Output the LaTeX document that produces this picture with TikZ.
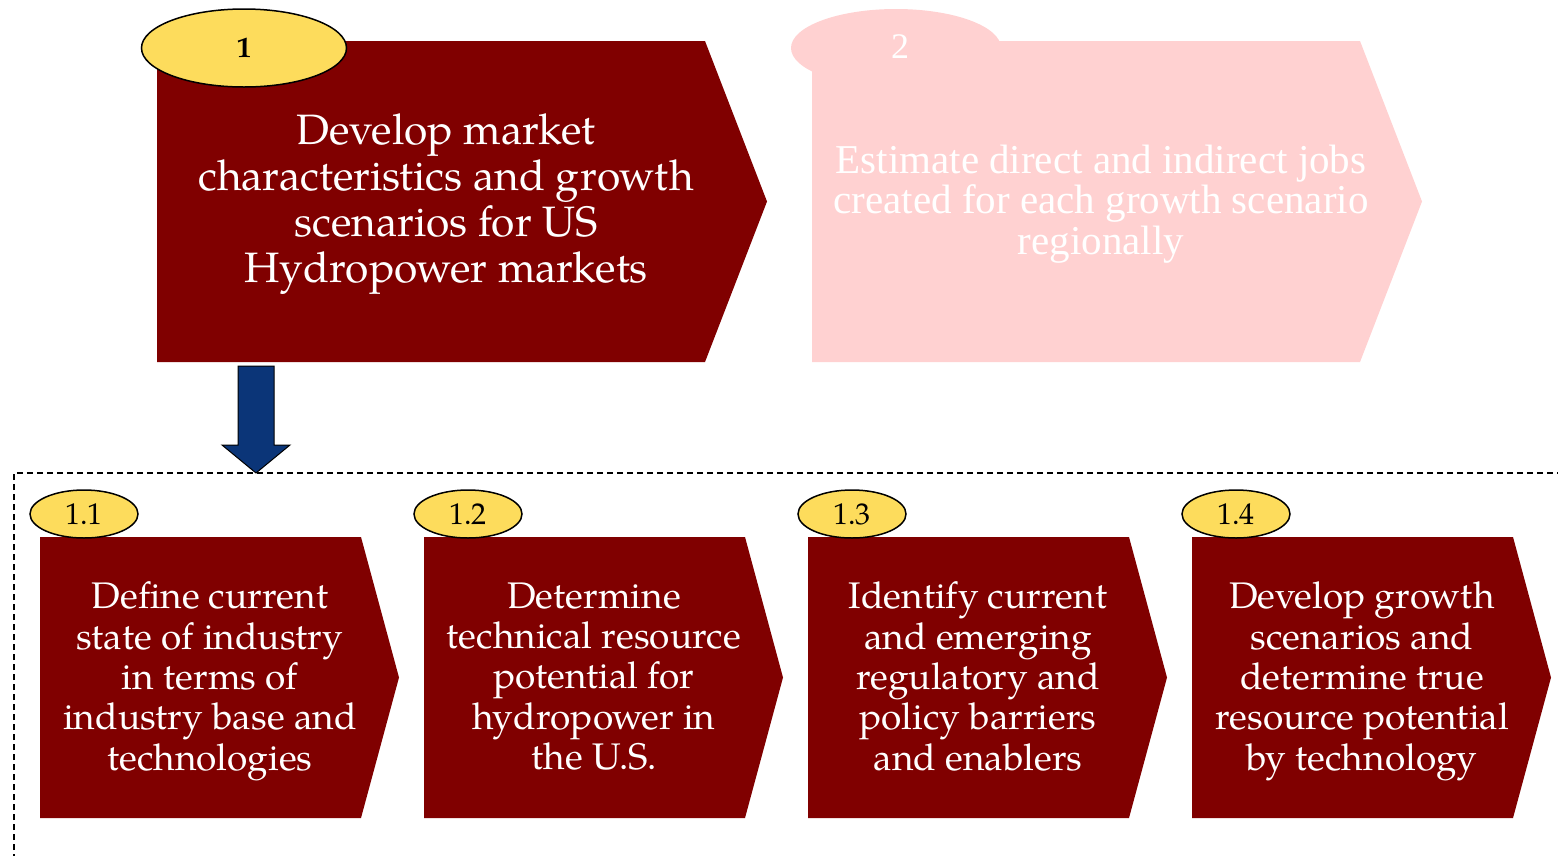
\documentclass[tikz,border=0pt]{standalone}
\usepackage{fontspec}
\setmainfont{texgyrepagella}[Extension=.otf, UprightFont=*-regular, BoldFont=*-bold]
\newfontfamily\narrowfont{Liberation Serif}
\usetikzlibrary{shapes.geometric}
\definecolor{boxred}{HTML}{800000}
\definecolor{boxpink}{HTML}{FFD1D1}
\definecolor{badgeyellow}{HTML}{FDDC5C}
\definecolor{arrowblue}{HTML}{0B3578}
\tikzset{
  bigbadge/.style={ellipse, draw=black, line width=1.5pt, fill=badgeyellow, minimum width=205pt, minimum height=78pt, inner sep=0pt, font=\fontsize{29}{30}\selectfont\bfseries},
  pinkbadge/.style={ellipse, fill=boxpink, minimum width=210pt, minimum height=78pt, inner sep=0pt},
  smallbadge/.style={ellipse, draw=black, line width=1.5pt, fill=badgeyellow, minimum width=108pt, minimum height=48pt, inner sep=0pt, font=\fontsize{30}{32}\selectfont},
  bigtext/.style={text=white, align=center, inner sep=0pt, font=\fontsize{42.5}{46}\selectfont},
  pinktext/.style={text=white, align=center, inner sep=0pt, font=\narrowfont\fontsize{41}{40.5}\selectfont},
  smalltext/.style={text=white, align=center, inner sep=0pt, text depth=10pt, font=\fontsize{37}{40.3}\selectfont},
  frame/.style={draw=black, line width=1.5pt, dash pattern=on 6pt off 4pt},
  bluearrow/.style={fill=arrowblue, draw=black, line width=1pt, line join=miter},
}
\begin{document}
\begin{tikzpicture}[x=1pt, y=-1pt]
\useasboundingbox (0,0) rectangle (1558,855);
\fill[white] (0,0) rectangle (1558,855);
% dashed frame
\coordinate (frameTL) at (14,473);
\coordinate (frameBL) at (14,870);
\coordinate (frameTR) at (1570,473);
\draw[frame] (frameBL) -- (frameTL) -- (frameTR);
% box 1
\fill[boxred] (157,41) -- (705,41) -- (767,201.5) -- (705,362) -- (157,362) -- cycle;
\node[bigbadge] (badge1) at (244,48) {1};
\node[bigtext] (task1) at (446,204) {Develop market\\characteristics and growth\\scenarios for US\\Hydropower markets};
% box 2
\node[pinkbadge] (badge2) at (896,48) {};
\fill[boxpink] (812,41) -- (1360,41) -- (1422,201.5) -- (1360,362) -- (812,362) -- cycle;
\node[text=white, font=\narrowfont\fontsize{36}{38}\selectfont] (num2) at (900,47) {2};
\node[pinktext] (task2) at (1101,204) {Estimate direct and indirect jobs\\created for each growth scenario\\regionally};
% arrow
\coordinate (arrowtop) at (256,366);
\draw[bluearrow, shift={(arrowtop)}] (-18,0) -- (18,0) -- (18,79) -- (34,79) -- (0,107) -- (-34,79) -- (-18,79) -- cycle;
% small boxes
\foreach \i/\num/\txt in {
  0/1.1/{Define current\\state of industry\\in terms of\\industry base and\\technologies},
  1/1.2/{Determine\\technical resource\\potential for\\hydropower in\\the U.S.},
  2/1.3/{Identify current\\and emerging\\regulatory and\\policy barriers\\and enablers},
  3/1.4/{Develop growth\\scenarios and\\determine true\\resource potential\\by technology}} {
  \begin{scope}[xshift=\i*384pt]
    \fill[boxred] (40,537) -- (361,537) -- (399,677.5) -- (361,818) -- (40,818) -- cycle;
    \node[smalltext] (stask\i) at (210,681) {\txt};
    \node[smallbadge] (sbadge\i) at (84,514) {\num};
  \end{scope}
}
\end{tikzpicture}
\end{document}
